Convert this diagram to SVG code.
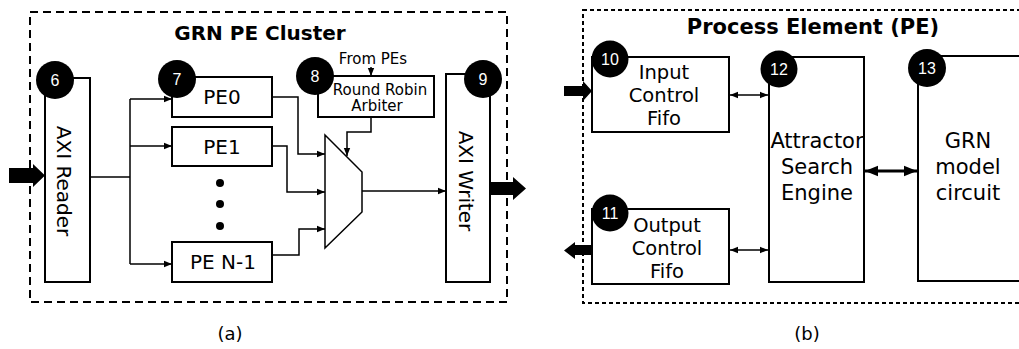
<svg xmlns="http://www.w3.org/2000/svg" width="1019" height="349" viewBox="0 0 1019 349">
<style>
.box{fill:#fff;stroke:#000;stroke-width:2}
.dashA{fill:none;stroke:#000;stroke-width:2;stroke-dasharray:8 5}
.dashB{fill:none;stroke:#000;stroke-width:2;stroke-dasharray:4 3}
.ln{fill:none;stroke:#000;stroke-width:1.5}
.t{font-family:"DejaVu Sans",sans-serif;fill:#000;text-anchor:middle}
.title{font-family:"DejaVu Sans",sans-serif;font-weight:bold;fill:#000;text-anchor:middle}
.num{font-family:"Liberation Sans",Arial,sans-serif;font-size:16px;fill:#fff;text-anchor:middle}
.blk{fill:#000}
</style>
<defs>
<marker id="ah" viewBox="0 0 10 10" refX="10" refY="5" markerWidth="8" markerHeight="8" markerUnits="userSpaceOnUse" orient="auto-start-reverse">
<path d="M0,1 L10,5 L0,9 z" fill="#000"/>
</marker>
<marker id="ah2" viewBox="0 0 10 10" refX="10" refY="5" markerWidth="13" markerHeight="13" markerUnits="userSpaceOnUse" orient="auto-start-reverse">
<path d="M0,1 L10,5 L0,9 z" fill="#000"/>
</marker>
</defs>

<!-- Panel (a) -->
<rect class="dashA" x="30" y="12" width="477" height="290"/>
<text class="title" x="260" y="40" font-size="20">GRN PE Cluster</text>

<g id="connectors-a">
<line class="ln" x1="90" y1="177" x2="130" y2="177"/>
<line class="ln" x1="130" y1="99" x2="130" y2="264"/>
<line class="ln" x1="130" y1="99" x2="172" y2="99" marker-end="url(#ah)"/>
<line class="ln" x1="130" y1="146" x2="172" y2="146" marker-end="url(#ah)"/>
<line class="ln" x1="130" y1="264" x2="172" y2="264" marker-end="url(#ah)"/>
<polyline class="ln" points="272,97 298,97 298,154 325,154" marker-end="url(#ah)"/>
<polyline class="ln" points="272,146 287,146 287,192 325,192" marker-end="url(#ah)"/>
<polyline class="ln" points="272,255 299,255 299,229 325,229" marker-end="url(#ah)"/>
<line class="ln" x1="362" y1="191" x2="446" y2="191" marker-end="url(#ah)"/>
<line class="ln" x1="371" y1="67" x2="371" y2="76" marker-end="url(#ah)"/>
<polyline class="ln" points="371,117 371,132 347,132 347,156" marker-end="url(#ah)"/>
<polygon class="blk" points="9,168 33,168 33,164 45,175.5 33,187 33,183 9,183"/>
<polygon class="blk" points="490,182 513,182 513,177 526,188.5 513,200 513,195 490,195"/>
</g>

<g id="axi-reader">
<rect class="box" x="45" y="78" width="45" height="204"/>
<text class="t" font-size="20" transform="translate(57,181) rotate(90)">AXI Reader</text>
<circle cx="55" cy="80" r="19" fill="#000"/>
<text class="num" x="55" y="86">6</text>
</g>

<g id="pe0">
<rect class="box" x="172" y="77" width="100" height="40"/>
<text class="t" x="222" y="104" font-size="20">PE0</text>
<circle cx="177" cy="79" r="19" fill="#000"/>
<text class="num" x="177" y="85">7</text>
</g>
<g id="pe1">
<rect class="box" x="172" y="127" width="100" height="39"/>
<text class="t" x="222" y="154" font-size="20">PE1</text>
</g>
<g id="dots">
<circle cx="220" cy="183" r="4" fill="#000"/>
<circle cx="220" cy="204" r="4" fill="#000"/>
<circle cx="220" cy="226" r="4" fill="#000"/>
</g>
<g id="pe-n1">
<rect class="box" x="172" y="242" width="100" height="40"/>
<text class="t" x="223" y="269" font-size="20">PE N-1</text>
</g>

<g id="mux">
<polygon points="325,135 362,172 362,212 325,248" fill="#fff" stroke="#000" stroke-width="1.5"/>
</g>

<g id="arbiter">
<text class="t" x="373" y="64" font-size="15">From PEs</text>
<rect class="box" x="318" y="76" width="116" height="41" stroke-width="1.5"/>
<text class="t" x="380" y="95" font-size="15">Round Robin</text>
<text class="t" x="377" y="111" font-size="15">Arbiter</text>
<circle cx="315" cy="76" r="19" fill="#000"/>
<text class="num" x="315" y="82">8</text>
</g>

<g id="axi-writer">
<rect class="box" x="446" y="74" width="44" height="208"/>
<text class="t" font-size="20" transform="translate(459,181) rotate(90)">AXI Writer</text>
<circle cx="483" cy="79" r="19" fill="#000"/>
<text class="num" x="483" y="85">9</text>
</g>

<text class="t" x="230" y="340" font-size="18">(a)</text>

<!-- Panel (b) -->
<rect class="dashB" x="583" y="10" width="460" height="293"/>
<text class="title" x="813" y="34" font-size="21">Process Element (PE)</text>

<g id="connectors-b">
<line class="ln" x1="730" y1="95" x2="768" y2="95" marker-start="url(#ah)" marker-end="url(#ah)"/>
<line class="ln" x1="730" y1="250" x2="768" y2="250" marker-start="url(#ah)" marker-end="url(#ah)"/>
<line x1="865" y1="171" x2="917" y2="171" stroke="#000" stroke-width="3" marker-start="url(#ah2)" marker-end="url(#ah2)"/>
<polygon class="blk" points="564,86 583,86 583,81 592,91 583,101 583,96 564,96"/>
<polygon class="blk" points="592,245 575,245 575,242 564,250.5 575,259 575,255 592,255"/>
</g>

<g id="input-fifo">
<rect class="box" x="592" y="57" width="137" height="75"/>
<text class="t" x="664" y="79" font-size="19.5">Input</text>
<text class="t" x="664" y="102" font-size="19.5">Control</text>
<text class="t" x="664" y="125" font-size="19.5">Fifo</text>
<circle cx="610" cy="59" r="18.5" fill="#000"/>
<text class="num" x="610" y="65">10</text>
</g>

<g id="output-fifo">
<rect class="box" x="592" y="209" width="137" height="75"/>
<text class="t" x="667" y="232" font-size="19.5">Output</text>
<text class="t" x="667" y="255" font-size="19.5">Control</text>
<text class="t" x="667" y="278" font-size="19.5">Fifo</text>
<circle cx="610" cy="213" r="18.5" fill="#000"/>
<text class="num" x="610" y="219">11</text>
</g>

<g id="ase">
<rect class="box" x="769" y="57" width="95" height="225"/>
<text class="t" x="817" y="148" font-size="21">Attractor</text>
<text class="t" x="817" y="174" font-size="21">Search</text>
<text class="t" x="817" y="200" font-size="21">Engine</text>
<circle cx="779" cy="69" r="18.5" fill="#000"/>
<text class="num" x="779" y="75">12</text>
</g>

<g id="grn-model">
<rect class="box" x="918" y="56" width="130" height="225"/>
<text class="t" x="968" y="148" font-size="21">GRN</text>
<text class="t" x="968" y="174" font-size="21">model</text>
<text class="t" x="968" y="200" font-size="21">circuit</text>
<circle cx="927" cy="68" r="19" fill="#000"/>
<text class="num" x="927" y="74">13</text>
</g>

<text class="t" x="807" y="340" font-size="18">(b)</text>
</svg>
